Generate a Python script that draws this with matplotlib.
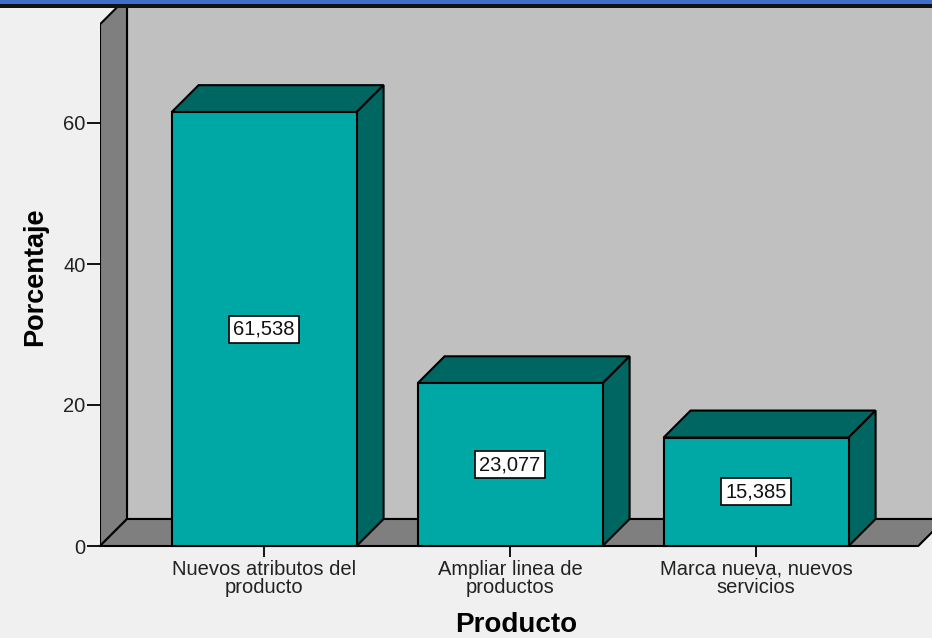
"""Porcentaje por tipo de producto: barras con efecto 3D al estilo SPSS."""

import matplotlib

matplotlib.use("Agg")
import matplotlib.pyplot as plt
from matplotlib.patches import Polygon, Rectangle

plt.rcParams["font.family"] = ["Liberation Sans", "DejaVu Sans"]

categories = ["Nuevos atributos del\nproducto", "Ampliar linea de\nproductos", "Marca nueva, nuevos\nservicios"]
percentages = [61.538, 23.077, 15.385]
y_ticks = [0, 20, 40, 60]

FACE = "#00a8a5"
SHADE = "#006661"
WALL_SIDE = "#7f7f7f"
WALL_BACK = "#c0c0c0"
BG = "#f0f0f0"
DEPTH_PX = 27
BAR_W = 0.752
WALL_TOP = 74

W, H, DPI = 932, 638, 100
fig = plt.figure(figsize=(W / DPI, H / DPI), dpi=DPI, facecolor=BG)

# window header strip
fig.patches.append(Rectangle((0, 1 - 4 / H), 1, 4 / H, transform=fig.transFigure,
                             facecolor="#3f6fc6", edgecolor="none", zorder=5))
fig.patches.append(Rectangle((0, 1 - 7.5 / H), 1, 3.5 / H, transform=fig.transFigure,
                             facecolor="#111111", edgecolor="none", zorder=5))

left, right, bottom, top = 100, 932, 546, 8
ax = fig.add_axes([left / W, (H - bottom) / H, (right - left) / W, (bottom - top) / H])
ax.set_facecolor(BG)
x_min, x_max = -0.667, 2.715
y_max = (bottom - top) / 7.05
ax.set_xlim(x_min, x_max)
ax.set_ylim(0, y_max)
for s in ax.spines.values():
    s.set_visible(False)

# depth offset in data units
p0 = ax.transData.transform((0, 0))
p1 = ax.transData.transform((1, 1))
dx = DEPTH_PX / (p1[0] - p0[0])
dy = DEPTH_PX / (p1[1] - p0[1])

floor_right = 2.659
lw = 1.5
# back wall
ax.add_patch(Polygon([(x_min + dx, dy), (x_max + 1, dy), (x_max + 1, y_max + 10), (x_min + dx, y_max + 10)],
                     closed=True, facecolor=WALL_BACK, edgecolor="black", lw=lw, zorder=1))
# side wall
ax.add_patch(Polygon([(x_min, 0), (x_min + dx, dy), (x_min + dx, WALL_TOP + dy), (x_min, WALL_TOP)],
                     closed=True, facecolor=WALL_SIDE, edgecolor="black", lw=lw, zorder=2))
# floor
ax.add_patch(Polygon([(x_min, 0), (floor_right, 0), (floor_right + dx, dy), (x_min + dx, dy)],
                     closed=True, facecolor=WALL_SIDE, edgecolor="black", lw=lw, zorder=2, clip_on=False))

xs = list(range(len(categories)))
for x, v in zip(xs, percentages):
    x0, x1 = x - BAR_W / 2, x + BAR_W / 2
    ax.bar(x, v, width=BAR_W, color=FACE, edgecolor="black", lw=lw, zorder=4, clip_on=False)
    ax.add_patch(Polygon([(x0, v), (x1, v), (x1 + dx, v + dy), (x0 + dx, v + dy)],
                         closed=True, facecolor=SHADE, edgecolor="black", lw=lw, zorder=3))
    ax.add_patch(Polygon([(x1, 0), (x1 + dx, dy), (x1 + dx, v + dy), (x1, v)],
                         closed=True, facecolor=SHADE, edgecolor="black", lw=lw, zorder=3))
    ax.text(x, v / 2, f"{v:.3f}".replace(".", ","), ha="center", va="center", fontsize=14.5, zorder=6,
            color="#111111",
            bbox=dict(boxstyle="square,pad=0.2", facecolor="white", edgecolor="black", lw=1.2))

ax.set_yticks(y_ticks)
ax.set_xticks(xs)
ax.set_xticklabels(categories, fontsize=14.5, linespacing=0.95, color="#222222")
ax.tick_params(axis="y", length=9.5, width=1.3, pad=1, labelsize=14.5, labelcolor="#222222")
ax.tick_params(axis="x", length=8, width=1.3, pad=2)

ax.set_ylabel("Porcentaje", fontsize=19.5, fontweight="bold", labelpad=11)
ax.set_xlabel("Producto", fontsize=20, fontweight="bold", labelpad=11)

fig.savefig("out.png", dpi=DPI, facecolor=BG)
